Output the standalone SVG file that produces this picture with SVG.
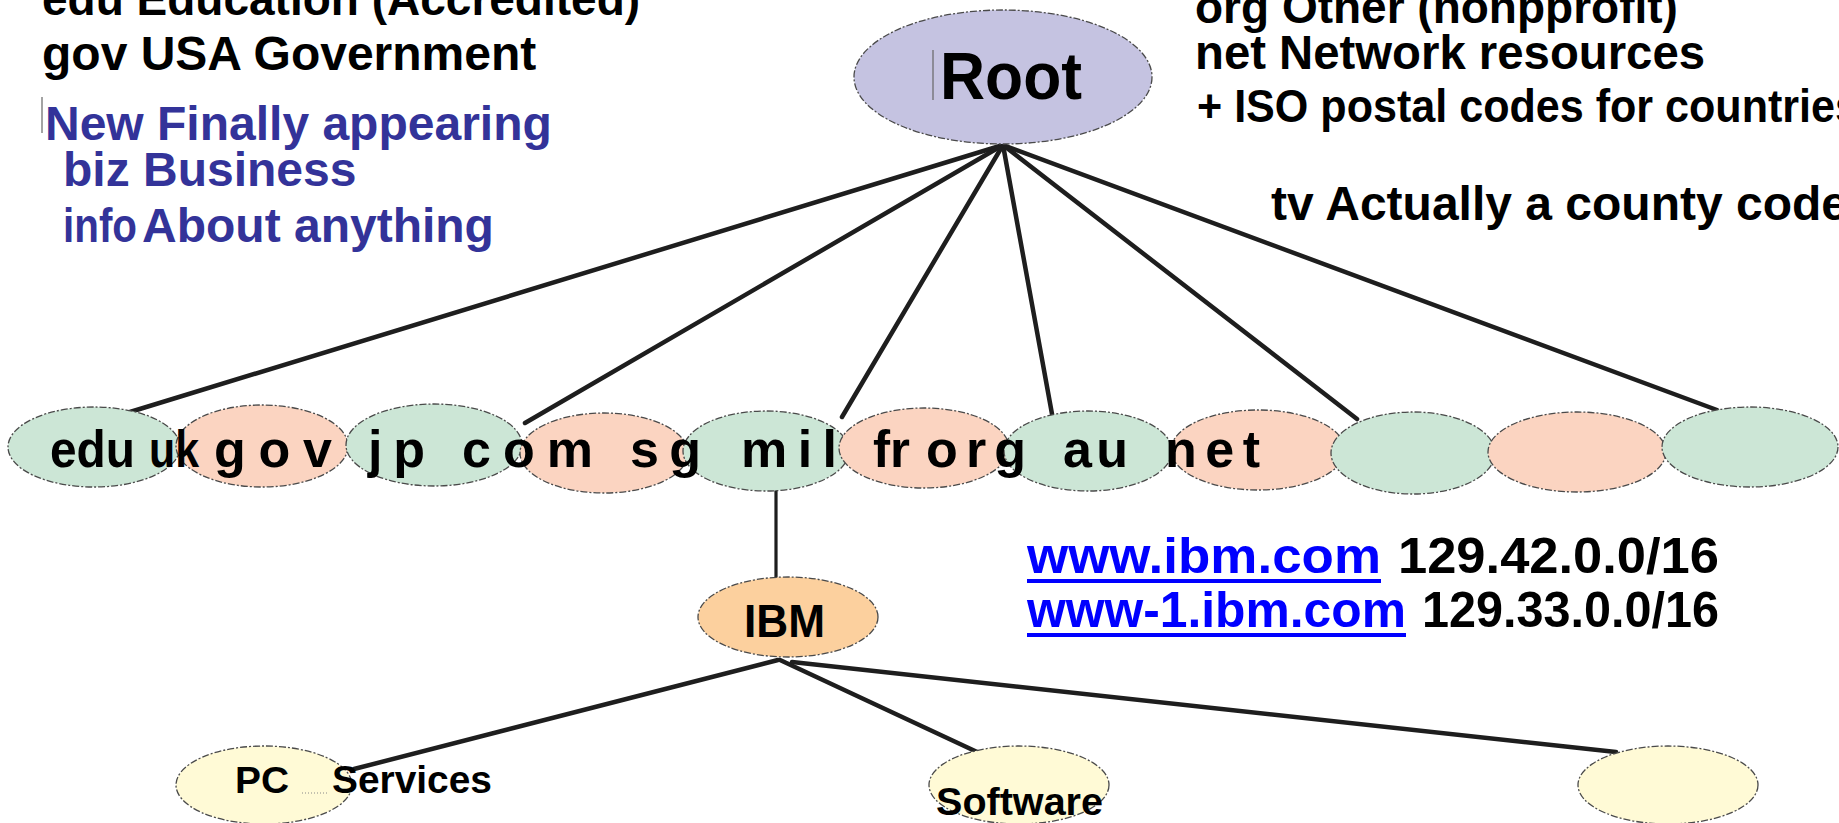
<svg xmlns="http://www.w3.org/2000/svg" width="1839" height="823" viewBox="0 0 1839 823">
<style>
.bg{fill:#ffffff}
.nd{stroke:#4a4a4a;stroke-width:1.3;stroke-dasharray:7 2 2 2}
.gr{fill:#cce6d6}
.sa{fill:#fbd4c1}
.rt{fill:#c5c3e1}
.ib{fill:#fcd09e}
.lf{fill:#fffad6}
.cn{stroke:#1e1e1e;stroke-width:4.5;fill:none;stroke-linecap:round}
.t{font-family:"Liberation Sans",Arial,sans-serif;font-weight:bold;fill:#000}
.b{fill:#333399}
.u{fill:#0000ff}
.art{stroke:#666;stroke-width:1.2}
</style>
<rect class="bg" x="0" y="0" width="1839" height="823"/>

<g id="legend-left">
<text class="t" x="42" y="15" font-size="46">edu Education (Accredited)</text>
<text class="t" x="42" y="70" font-size="48">gov USA Government</text>
<line class="art" x1="42" y1="97" x2="42" y2="133"/>
<text class="t b" x="45" y="140" font-size="48">New Finally appearing</text>
<text class="t b" x="63" y="186" font-size="48">biz Business</text>
<text class="t b" y="242" font-size="48"><tspan x="63" textLength="74" lengthAdjust="spacingAndGlyphs" font-weight="bold">info</tspan><tspan x="142">About anything</tspan></text>
</g>

<g id="legend-right">
<text class="t" x="1195" y="23" font-size="46">org Other (nonpprofit)</text>
<text class="t" x="1195" y="69" font-size="48" textLength="510" lengthAdjust="spacingAndGlyphs">net Network resources</text>
<text class="t" x="1197" y="122" font-size="47" textLength="662" lengthAdjust="spacingAndGlyphs">+ ISO postal codes for countries</text>
<text class="t" x="1271" y="220" font-size="48">tv Actually a county code</text>
</g>

<g id="connectors">
<line class="cn" x1="1003" y1="145" x2="130" y2="412"/>
<line class="cn" x1="1003" y1="145" x2="525" y2="423"/>
<line class="cn" x1="1003" y1="145" x2="842" y2="417"/>
<line class="cn" x1="1003" y1="145" x2="1052" y2="414"/>
<line class="cn" x1="1003" y1="145" x2="1357" y2="419"/>
<line class="cn" x1="1003" y1="145" x2="1717" y2="410"/>
<line class="cn" x1="776" y1="491" x2="776" y2="579" style="stroke-width:3.2"/>
<line class="cn" x1="778" y1="660" x2="354" y2="769"/>
<line class="cn" x1="780" y1="660" x2="990" y2="758"/>
<line class="cn" x1="792" y1="662" x2="1616" y2="752"/>
</g>

<g id="node-root">
<ellipse class="nd rt" cx="1003" cy="77" rx="149" ry="67"/>
<line class="art" x1="933" y1="50" x2="933" y2="100"/>
<text class="t" x="940" y="99" font-size="66" textLength="142" lengthAdjust="spacingAndGlyphs">Root</text>
</g>

<g id="node-edu"><ellipse class="nd gr" cx="94" cy="447" rx="86" ry="40"/></g>
<g id="node-gov"><ellipse class="nd sa" cx="262" cy="446" rx="86" ry="41"/></g>
<g id="node-jp"><ellipse class="nd gr" cx="434" cy="445" rx="88" ry="41"/></g>
<g id="node-com"><ellipse class="nd sa" cx="604" cy="453" rx="84" ry="40"/></g>
<g id="node-mil"><ellipse class="nd gr" cx="766" cy="451" rx="83" ry="40"/></g>
<g id="node-fr"><ellipse class="nd sa" cx="924" cy="448" rx="85" ry="40"/></g>
<g id="node-au"><ellipse class="nd gr" cx="1088" cy="451" rx="84" ry="40"/></g>
<g id="node-net"><ellipse class="nd sa" cx="1258" cy="450" rx="87" ry="40"/></g>
<g id="node-blank1"><ellipse class="nd gr" cx="1413" cy="453" rx="82" ry="41"/></g>
<g id="node-blank2"><ellipse class="nd sa" cx="1577" cy="452" rx="89" ry="40"/></g>
<g id="node-blank3"><ellipse class="nd gr" cx="1750" cy="447" rx="88" ry="40"/></g>

<g id="row-labels">
<text class="t" x="50" y="467" font-size="52" textLength="85" lengthAdjust="spacingAndGlyphs">edu</text>
<text class="t" x="149" y="467" font-size="52" textLength="50" lengthAdjust="spacingAndGlyphs">uk</text>
<text class="t" x="214" y="467" font-size="52" textLength="118">g o v</text>
<text class="t" x="368" y="467" font-size="52" textLength="57">j p</text>
<text class="t" x="462" y="467" font-size="52" textLength="131">c o m</text>
<text class="t" x="630" y="467" font-size="52" textLength="71">s g</text>
<text class="t" x="741" y="467" font-size="52" textLength="96">m i l</text>
<text class="t" x="873" y="467" font-size="52" textLength="37" lengthAdjust="spacingAndGlyphs">fr</text>
<text class="t" x="926" y="467" font-size="52" textLength="100">o r g</text>
<text class="t" x="1063" y="467" font-size="52" textLength="65">a u</text>
<text class="t" x="1165" y="467" font-size="52" textLength="95">n e t</text>
</g>

<g id="node-ibm">
<ellipse class="nd ib" cx="788" cy="617" rx="90" ry="40"/>
<text class="t" x="744" y="637" font-size="46" textLength="81" lengthAdjust="spacingAndGlyphs">IBM</text>
</g>

<g id="node-pc">
<ellipse class="nd lf" cx="264" cy="785" rx="88" ry="39"/>
<text class="t" x="235" y="793" font-size="37" textLength="54" lengthAdjust="spacingAndGlyphs">PC</text>
<line x1="302" y1="793" x2="327" y2="793" stroke="#888" stroke-width="1" stroke-dasharray="1 2"/>
<text class="t" x="332" y="793" font-size="38" textLength="160" lengthAdjust="spacingAndGlyphs">Services</text>
</g>

<g id="node-software">
<ellipse class="nd lf" cx="1019" cy="785" rx="90" ry="39"/>
<text class="t" x="936" y="815" font-size="39" textLength="167" lengthAdjust="spacingAndGlyphs">Software</text>
</g>

<g id="node-leaf3">
<ellipse class="nd lf" cx="1668" cy="785" rx="90" ry="39"/>
</g>

<g id="addresses">
<text class="t u" x="1027" y="573" font-size="50" textLength="354" lengthAdjust="spacingAndGlyphs">www.ibm.com</text>
<rect class="u" x="1027" y="579" width="354" height="4"/>
<text class="t" x="1398" y="573" font-size="50" textLength="321" lengthAdjust="spacingAndGlyphs">129.42.0.0/16</text>
<text class="t u" x="1027" y="627" font-size="50" textLength="379" lengthAdjust="spacingAndGlyphs">www-1.ibm.com</text>
<rect class="u" x="1027" y="633" width="379" height="4"/>
<text class="t" x="1422" y="627" font-size="50" textLength="297" lengthAdjust="spacingAndGlyphs">129.33.0.0/16</text>
</g>
</svg>
